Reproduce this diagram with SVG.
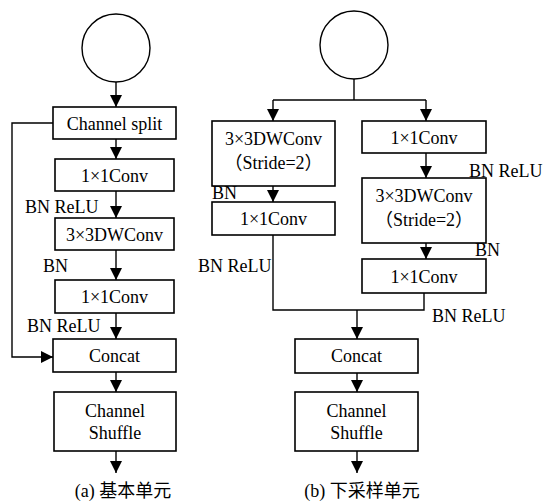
<svg xmlns="http://www.w3.org/2000/svg" width="549" height="502" viewBox="0 0 549 502">
<style>
.box{fill:#fff;stroke:#000;stroke-width:1.6}
.circ{fill:#fff;stroke:#000;stroke-width:1.4}
.ln{fill:none;stroke:#000;stroke-width:1.4}
text{font-family:"Liberation Serif","Times New Roman",serif;font-size:18px;fill:#000}
.t{text-anchor:middle}
.cjk{font-family:"Liberation Serif","Noto Sans CJK SC",serif}
</style>
<defs>
<marker id="ah" markerUnits="userSpaceOnUse" markerWidth="12" markerHeight="12" refX="12" refY="6" orient="auto">
<path d="M0,0 L12,6 L0,12 z" fill="#000"/>
</marker>
</defs>
<rect width="549" height="502" fill="#fff"/>
<g id="connectors">
<line class="ln" x1="116" y1="82" x2="116" y2="107" marker-end="url(#ah)"/>
<line class="ln" x1="116" y1="139" x2="116" y2="159" marker-end="url(#ah)"/>
<line class="ln" x1="116" y1="191" x2="116" y2="218" marker-end="url(#ah)"/>
<line class="ln" x1="116" y1="250" x2="116" y2="280" marker-end="url(#ah)"/>
<line class="ln" x1="116" y1="313" x2="116" y2="339" marker-end="url(#ah)"/>
<line class="ln" x1="116" y1="372" x2="116" y2="392" marker-end="url(#ah)"/>
<line class="ln" x1="116" y1="451" x2="116" y2="473" marker-end="url(#ah)"/>
<polyline class="ln" points="53,123 12,123 12,357 53,357" marker-end="url(#ah)"/>
<line class="ln" x1="354" y1="79" x2="354" y2="100"/>
<polyline class="ln" points="273,100 426,100"/>
<line class="ln" x1="273" y1="100" x2="273" y2="121" marker-end="url(#ah)"/>
<line class="ln" x1="426" y1="100" x2="426" y2="121" marker-end="url(#ah)"/>
<line class="ln" x1="273" y1="186" x2="273" y2="202" marker-end="url(#ah)"/>
<line class="ln" x1="426" y1="153" x2="426" y2="178" marker-end="url(#ah)"/>
<line class="ln" x1="426" y1="243" x2="426" y2="259" marker-end="url(#ah)"/>
<polyline class="ln" points="273,235 273,310 424,310 424,293"/>
<line class="ln" x1="357" y1="310" x2="357" y2="339" marker-end="url(#ah)"/>
<line class="ln" x1="357" y1="373" x2="357" y2="392" marker-end="url(#ah)"/>
<line class="ln" x1="357" y1="451" x2="357" y2="473" marker-end="url(#ah)"/>
</g>
<g id="a-input"><circle class="circ" cx="116" cy="48" r="34"/></g>
<g id="a-split"><rect class="box" x="53" y="107" width="123" height="32"/><text class="t" x="114.5" y="130">Channel split</text></g>
<g id="a-conv1"><rect class="box" x="55" y="159" width="119" height="32"/><text class="t" x="114.5" y="182">1×1Conv</text></g>
<g id="a-dw"><rect class="box" x="55" y="218" width="119" height="32"/><text class="t" x="114.5" y="241">3×3DWConv</text></g>
<g id="a-conv2"><rect class="box" x="55" y="280" width="119" height="33"/><text class="t" x="114.5" y="303">1×1Conv</text></g>
<g id="a-concat"><rect class="box" x="53" y="339" width="123" height="33"/><text class="t" x="114.5" y="362">Concat</text></g>
<g id="a-shuffle"><rect class="box" x="54" y="392" width="122" height="59"/><text class="t" x="115" y="417">Channel</text><text class="t" x="115" y="439">Shuffle</text></g>
<g id="a-labels">
<text x="25" y="213">BN ReLU</text>
<text x="43" y="272">BN</text>
<text x="27" y="332">BN ReLU</text>
<text class="t cjk" x="123" y="497">(a) 基本单元</text>
</g>
<g id="b-input"><circle class="circ" cx="354" cy="45" r="34"/></g>
<g id="b-dw-left"><rect class="box" x="212" y="121" width="123" height="65"/><text class="t" x="273.5" y="145">3×3DWConv</text><text class="t cjk" x="273.5" y="169">（Stride=2）</text></g>
<g id="b-conv-left"><rect class="box" x="212" y="202" width="123" height="33"/><text class="t" x="273.5" y="225">1×1Conv</text></g>
<g id="b-conv-right1"><rect class="box" x="362" y="121" width="124" height="32"/><text class="t" x="424" y="144">1×1Conv</text></g>
<g id="b-dw-right"><rect class="box" x="362" y="178" width="124" height="65"/><text class="t" x="424" y="202">3×3DWConv</text><text class="t cjk" x="424" y="226">（Stride=2）</text></g>
<g id="b-conv-right2"><rect class="box" x="362" y="259" width="124" height="34"/><text class="t" x="424" y="283">1×1Conv</text></g>
<g id="b-concat"><rect class="box" x="295" y="339" width="123" height="34"/><text class="t" x="356.5" y="362">Concat</text></g>
<g id="b-shuffle"><rect class="box" x="295" y="392" width="123" height="59"/><text class="t" x="356.5" y="417">Channel</text><text class="t" x="356.5" y="439">Shuffle</text></g>
<g id="b-labels">
<text x="212" y="199">BN</text>
<text x="469" y="177">BN ReLU</text>
<text x="475" y="256">BN</text>
<text x="198" y="272">BN ReLU</text>
<text x="432" y="322">BN ReLU</text>
<text class="t cjk" x="362" y="497">(b) 下采样单元</text>
</g>
</svg>
